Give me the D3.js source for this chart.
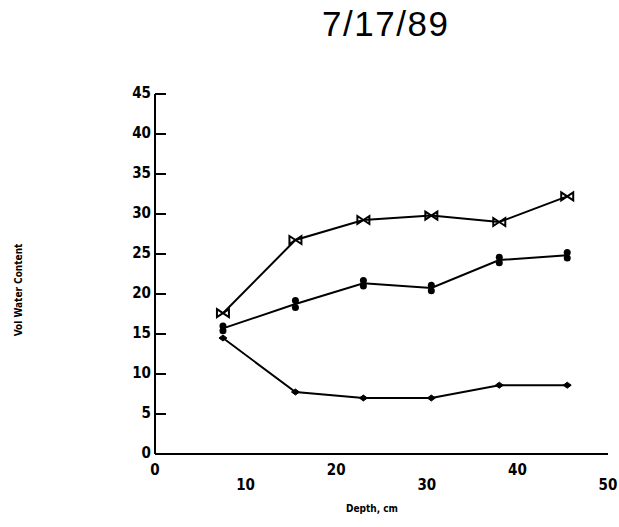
<!DOCTYPE html>
<html>
<head>
<meta charset="utf-8">
<script src="https://cdn.jsdelivr.net/npm/d3@7"></script>
<style>
  body { margin: 0; background: #fff; }
  svg { display: block; }
  .tick-label { font-family: "Liberation Sans Narrow", "DejaVu Sans Condensed", sans-serif; font-weight: bold; font-size: 15px; }
  .axis-title { font-family: "Liberation Sans Narrow", "DejaVu Sans Condensed", sans-serif; font-weight: bold; font-size: 10px; }
</style>
</head>
<body>
<svg id="chart" width="619" height="527"></svg>
<script>
// Depths (cm) sampled
const depths = [7.5, 15.5, 23, 30.5, 38, 45.5];

// Vol water content, three series
const seriesTop = [17.6, 26.75, 29.25, 29.8, 29.0, 32.2];
const seriesMidA = [16.0, 19.2, 21.7, 21.1, 24.6, 25.2];
const seriesMidB = [15.4, 18.3, 21.0, 20.4, 23.9, 24.5];
const seriesLow = [14.5, 7.75, 7.0, 7.0, 8.6, 8.6];

const xTicks = [0, 10, 20, 30, 40, 50];
const yTicks = [0, 5, 10, 15, 20, 25, 30, 35, 40, 45];

const svg = d3.select('#chart');

const x = d3.scaleLinear().domain([0, 50]).range([155, 608]);
const y = d3.scaleLinear().domain([0, 45]).range([454, 94]);

// Title
svg.append('text')
  .attr('x', 385)
  .attr('y', 36)
  .attr('text-anchor', 'middle')
  .attr('font-family', 'Liberation Sans, sans-serif')
  .attr('font-size', 35)
  .attr('textLength', 126)
  .attr('fill', '#000')
  .text('7/17/89');

// Axes
const g = svg.append('g');
g.append('line')
  .attr('x1', x(0)).attr('x2', x(50))
  .attr('y1', y(0)).attr('y2', y(0))
  .attr('stroke', '#000').attr('stroke-width', 2);
g.append('line')
  .attr('x1', x(0)).attr('x2', x(0))
  .attr('y1', y(0)).attr('y2', y(45))
  .attr('stroke', '#000').attr('stroke-width', 2);

// y ticks point inward
g.selectAll('.ytick')
  .data(yTicks.filter((d) => d > 0))
  .enter()
  .append('line')
  .attr('x1', x(0)).attr('x2', x(0) + 11)
  .attr('y1', (d) => y(d)).attr('y2', (d) => y(d))
  .attr('stroke', '#000').attr('stroke-width', 2);

g.selectAll('.ylabel')
  .data(yTicks)
  .enter()
  .append('text')
  .attr('class', 'tick-label')
  .attr('x', x(0) - 4)
  .attr('y', (d) => y(d) + 4)
  .attr('text-anchor', 'end')
  .text((d) => d);

// x labels alternate between two rows
g.selectAll('.xlabel')
  .data(xTicks)
  .enter()
  .append('text')
  .attr('class', 'tick-label')
  .attr('x', (d) => x(d))
  .attr('y', (d, i) => (i % 2 === 0 ? 475 : 490))
  .attr('text-anchor', 'middle')
  .text((d) => d);

svg.append('text')
  .attr('class', 'axis-title')
  .attr('x', 372)
  .attr('y', 512)
  .attr('text-anchor', 'middle')
  .text('Depth, cm');

svg.append('text')
  .attr('class', 'axis-title')
  .attr('transform', 'translate(22,290) rotate(-90)')
  .attr('text-anchor', 'middle')
  .text('Vol Water Content');

// Lines
const line = d3.line()
  .x((d) => x(d[0]))
  .y((d) => y(d[1]));

const midMean = seriesMidA.map((v, i) => (v + seriesMidB[i]) / 2);

[seriesTop, midMean, seriesLow].forEach((s) => {
  svg.append('path')
    .datum(depths.map((d, i) => [d, s[i]]))
    .attr('d', line)
    .attr('fill', 'none')
    .attr('stroke', '#000')
    .attr('stroke-width', 2);
});

// Bowtie markers on top series
svg.selectAll('.bowtie')
  .data(depths.map((d, i) => [d, seriesTop[i]]))
  .enter()
  .append('path')
  .attr('transform', (d) => `translate(${x(d[0])},${y(d[1])})`)
  .attr('d', 'M-6,-4 L6,4 L6,-4 L-6,4 Z')
  .attr('fill', 'none')
  .attr('stroke', '#000')
  .attr('stroke-width', 2);

// Filled dots on the replicate middle series
svg.selectAll('.dot')
  .data(depths.flatMap((d, i) => [[d, seriesMidA[i]], [d, seriesMidB[i]]]))
  .enter()
  .append('ellipse')
  .attr('cx', (d) => x(d[0]))
  .attr('cy', (d) => y(d[1]))
  .attr('rx', 3.5)
  .attr('ry', 3.5)
  .attr('fill', '#000');

// Small plus markers on the low series
svg.selectAll('.plus')
  .data(depths.map((d, i) => [d, seriesLow[i]]))
  .enter()
  .append('path')
  .attr('transform', (d) => `translate(${x(d[0])},${y(d[1])})`)
  .attr('d', 'M-4,0 L0,-3 L4,0 L0,3 Z')
  .attr('fill', '#000')
  .attr('stroke', '#000')
  .attr('stroke-width', 1);
</script>
</body>
</html>
